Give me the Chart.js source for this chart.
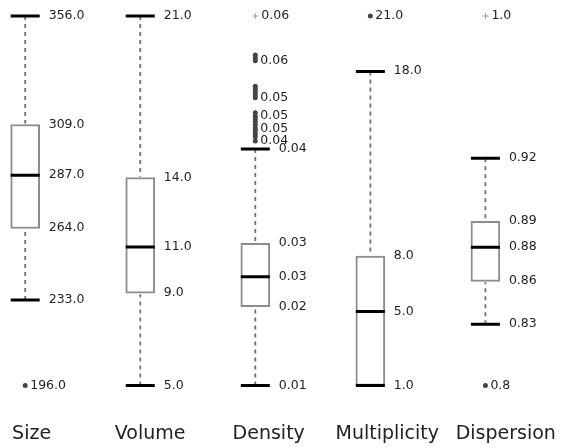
<!DOCTYPE html>
<html>
<head>
<meta charset="utf-8">
<script src="https://cdn.jsdelivr.net/npm/chart.js@4.4.0/dist/chart.umd.min.js"></script>
<style>
    html, body { margin: 0; padding: 0; background: #fff; }
    #wrap { width: 561px; height: 448px; }
</style>
</head>
<body>
<div id="wrap"><canvas id="boxChart"></canvas></div>
<script>
// Box plot values, one entry per column
const categories = ['Size', 'Volume', 'Density', 'Multiplicity', 'Dispersion'];
const decimals = [1, 1, 2, 1, 2];
const whiskerLow = [233, 5, 0.0100, 1, 0.834];
const q1 = [264, 9, 0.0211, 1, 0.8571];
const median = [287, 11, 0.0253, 5, 0.8754];
const q3 = [309, 14, 0.0300, 8, 0.8894];
const whiskerHigh = [356, 21, 0.0433, 18, 0.9234];
const outliers = [
    [196],
    [],
    [0.0444, 0.0450, 0.0454, 0.0458, 0.0462, 0.0467, 0.0471, 0.0475, 0.0479, 0.0484,
     0.0505, 0.0509, 0.0513, 0.0517, 0.0521, 0.0557, 0.0561, 0.0565],
    [21],
    [0.801]
];
const extremes = [[], [], [0.0620], [], [1.0]];

// each column has its own range: lowest to highest value shown
const lo = categories.map((c, i) => Math.min(whiskerLow[i], ...outliers[i], ...extremes[i]));
const hi = categories.map((c, i) => Math.max(whiskerHigh[i], ...outliers[i], ...extremes[i]));
const norm = (i, v) => (v - lo[i]) / (hi[i] - lo[i]);

function fmt(i, v) {
    let s = String(Number(v.toFixed(decimals[i])));
    if (s.indexOf('.') < 0) s += '.0';
    return s;
}

const labelFont = '12.5px "DejaVu Sans", Verdana, sans-serif';
const labelColor = '#1f1f1f';

// whiskers, caps, medians and value labels
const boxParts = {
    id: 'boxParts',
    afterDatasetsDraw(chart) {
        const ctx = chart.ctx;
        const xs = chart.scales.x;
        const ys = chart.scales.y;
        const half = 14.5;
        ctx.save();
        categories.forEach((c, i) => {
            const x = xs.getPixelForValue(i);
            const yWL = ys.getPixelForValue(norm(i, whiskerLow[i]));
            const yQ1 = ys.getPixelForValue(norm(i, q1[i]));
            const yMed = ys.getPixelForValue(norm(i, median[i]));
            const yQ3 = ys.getPixelForValue(norm(i, q3[i]));
            const yWH = ys.getPixelForValue(norm(i, whiskerHigh[i]));

            // dashed whiskers
            ctx.strokeStyle = '#707070';
            ctx.lineWidth = 1.8;
            ctx.setLineDash([4, 4]);
            ctx.beginPath();
            if (yWH < yQ3) { ctx.moveTo(x, yWH); ctx.lineTo(x, yQ3 - 1); }
            if (yWL > yQ1) { ctx.moveTo(x, yWL); ctx.lineTo(x, yQ1 + 1); }
            ctx.stroke();
            ctx.setLineDash([]);

            // caps and median
            ctx.strokeStyle = '#000';
            ctx.lineWidth = 3;
            ctx.beginPath();
            [yWL, yMed, yWH].forEach(y => {
                ctx.moveTo(x - half, y);
                ctx.lineTo(x + half, y);
            });
            ctx.stroke();

            // stat labels
            ctx.font = labelFont;
            ctx.fillStyle = labelColor;
            ctx.textAlign = 'left';
            ctx.textBaseline = 'middle';
            const done = {};
            [whiskerLow[i], q1[i], median[i], q3[i], whiskerHigh[i]].forEach(v => {
                const y = Math.round(ys.getPixelForValue(norm(i, v)));
                if (done[y]) return;
                done[y] = true;
                ctx.fillText(fmt(i, v), x + half + 9, y);
            });

            // outlier labels, skip those that would collide
            let lastY = Infinity;
            outliers[i].slice().sort((a, b) => a - b).forEach(v => {
                const y = ys.getPixelForValue(norm(i, v));
                if (lastY - y < 12) return;
                lastY = y;
                ctx.fillText(fmt(i, v), x + 5, y);
            });
            extremes[i].forEach(v => {
                const y = ys.getPixelForValue(norm(i, v));
                ctx.fillText(fmt(i, v), x + 6, y);
            });
        });
        ctx.restore();
    }
};

const outlierPoints = [];
const extremePoints = [];
categories.forEach((c, i) => {
    outliers[i].forEach(v => outlierPoints.push({ x: i, y: norm(i, v) }));
    extremes[i].forEach(v => extremePoints.push({ x: i, y: norm(i, v) }));
});

new Chart(document.getElementById('boxChart').getContext('2d'), {
    type: 'bar',
    data: {
        datasets: [
            {
                label: 'box',
                data: categories.map((c, i) => ({ x: i, y: [norm(i, q1[i]), norm(i, q3[i])] })),
                backgroundColor: '#fff',
                borderColor: '#8c8c8c',
                borderWidth: 2,
                borderSkipped: false,
                barThickness: 29,
                order: 3
            },
            {
                type: 'scatter',
                label: 'outliers',
                data: outlierPoints,
                backgroundColor: '#444',
                borderWidth: 0,
                pointRadius: 2.5,
                clip: false,
                order: 1
            },
            {
                type: 'scatter',
                label: 'extremes',
                data: extremePoints,
                pointStyle: 'cross',
                borderColor: '#999',
                borderWidth: 1,
                pointRadius: 3,
                clip: false,
                order: 2
            }
        ]
    },
    options: {
        responsive: true,
        maintainAspectRatio: false,
        animation: false,
        layout: {
            autoPadding: false,
            padding: { top: 16, bottom: 3, left: 0, right: 0 }
        },
        plugins: {
            legend: { display: false },
            tooltip: { enabled: false }
        },
        scales: {
            x: {
                type: 'linear',
                display: false,
                offset: false,
                min: -0.219,
                max: 4.657
            },
            x2: {
                type: 'linear',
                position: 'bottom',
                offset: false,
                min: -0.2666,
                max: 4.4656,
                grid: { display: false, drawTicks: false, offset: false },
                border: { display: false },
                ticks: {
                    stepSize: 1,
                    includeBounds: false,
                    autoSkip: false,
                    maxRotation: 0,
                    padding: 0,
                    color: '#222',
                    font: { family: '"DejaVu Sans", Verdana, sans-serif', size: 19 },
                    callback: function(value) {
                        return categories[value] !== undefined ? categories[value] : '';
                    }
                }
            },
            y: {
                display: false,
                min: -0.0993,
                max: 1
            }
        }
    },
    plugins: [boxParts]
});
</script>
</body>
</html>
